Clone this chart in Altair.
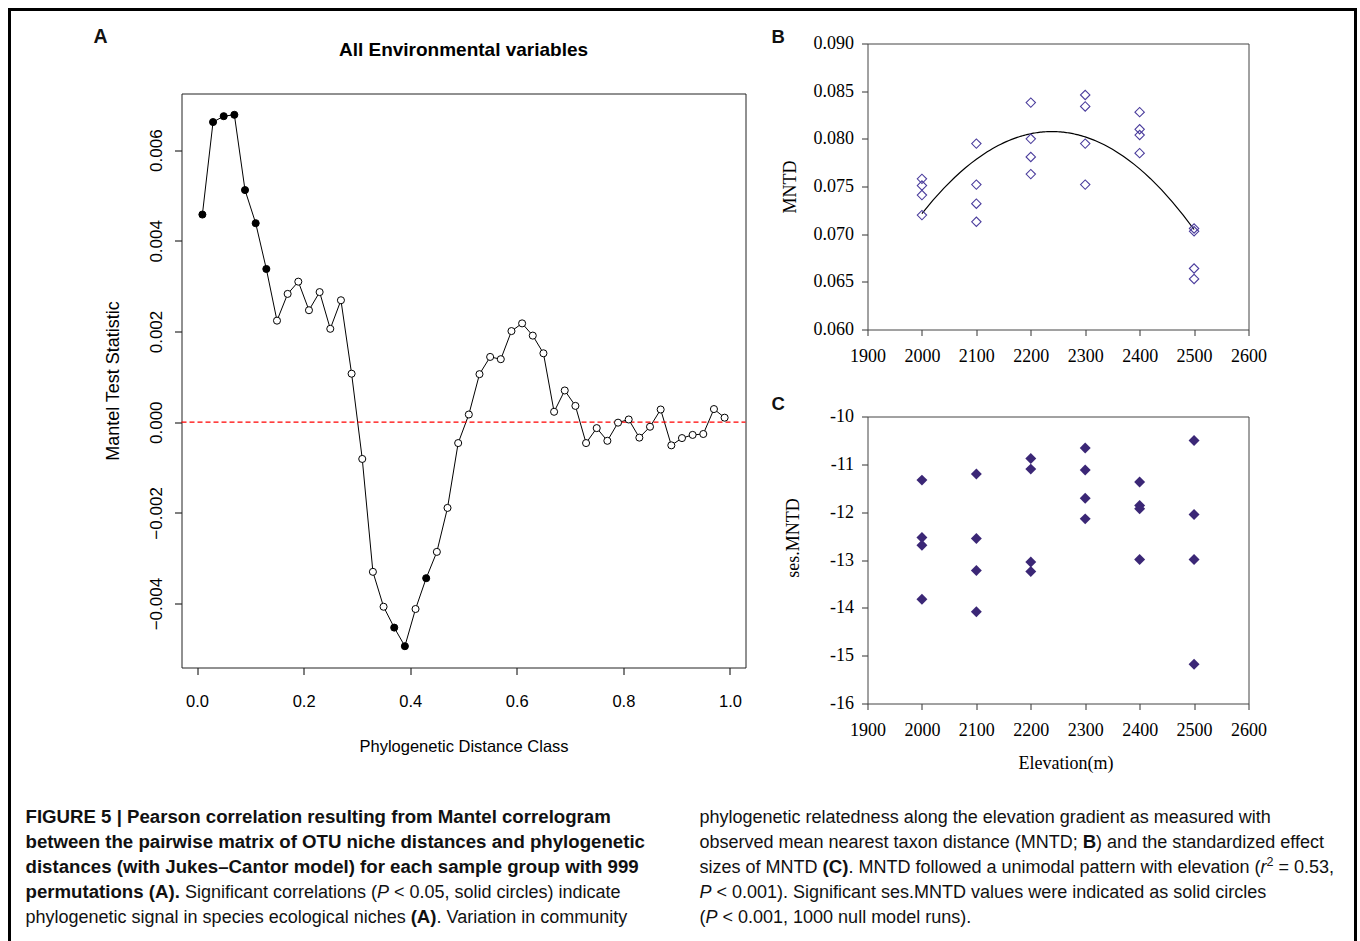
import altair as alt
import pandas as pd

# ---------------- data ----------------
a_dist = [0.01, 0.03, 0.05, 0.07, 0.09, 0.11, 0.13, 0.15, 0.17, 0.19,
          0.21, 0.23, 0.25, 0.27, 0.29, 0.31, 0.33, 0.35, 0.37, 0.39,
          0.41, 0.43, 0.45, 0.47, 0.49, 0.51, 0.53, 0.55, 0.57, 0.59,
          0.61, 0.63, 0.65, 0.67, 0.69, 0.71, 0.73, 0.75, 0.77, 0.79,
          0.81, 0.83, 0.85, 0.87, 0.89, 0.91, 0.93, 0.95, 0.97, 0.99]
a_mantel = [0.00458, 0.00662, 0.00675, 0.00678, 0.00512, 0.00439, 0.00338, 0.00224, 0.00283, 0.00310,
            0.00247, 0.00287, 0.00206, 0.00269, 0.00107, -0.00081, -0.00330, -0.00407, -0.00453, -0.00494,
            -0.00412, -0.00344, -0.00286, -0.00189, -0.00046, 0.00017, 0.00106, 0.00144, 0.00139, 0.00201,
            0.00218, 0.00191, 0.00152, 0.00023, 0.00070, 0.00036, -0.00046, -0.00013, -0.00041, -0.00001,
            0.00006, -0.00034, -0.00010, 0.00028, -0.00051, -0.00035, -0.00028, -0.00026, 0.00029, 0.00010]
a_sig = [1, 1, 1, 1, 1, 1, 1, 0, 0, 0,
         0, 0, 0, 0, 0, 0, 0, 0, 1, 1,
         0, 1, 0, 0, 0, 0, 0, 0, 0, 0,
         0, 0, 0, 0, 0, 0, 0, 0, 0, 0,
         0, 0, 0, 0, 0, 0, 0, 0, 0, 0]

elevation = [2000, 2000, 2000, 2000, 2100, 2100, 2100, 2100, 2200, 2200, 2200, 2200,
             2300, 2300, 2300, 2300, 2400, 2400, 2400, 2400, 2500, 2500, 2500, 2500]
b_mntd = [0.0758, 0.0751, 0.0741, 0.0720, 0.0795, 0.0752, 0.0732, 0.0713,
          0.0838, 0.0800, 0.0781, 0.0763, 0.0846, 0.0834, 0.0795, 0.0752,
          0.0828, 0.0810, 0.0804, 0.0785, 0.0706, 0.0703, 0.0664, 0.0653]
c_ses = [-11.33, -12.53, -12.69, -13.82, -11.20, -12.55, -13.22, -14.08,
         -10.88, -11.10, -13.04, -13.24, -10.66, -11.12, -11.71, -12.14,
         -11.37, -11.86, -11.93, -12.99, -10.50, -12.05, -12.99, -15.18]

a_xticks = [0.0, 0.2, 0.4, 0.6, 0.8, 1.0]
a_yticks = [-0.004, -0.002, 0.0, 0.002, 0.004, 0.006]
elev_ticks = [1900, 2000, 2100, 2200, 2300, 2400, 2500, 2600]
b_yticks = [0.060, 0.065, 0.070, 0.075, 0.080, 0.085, 0.090]
c_yticks = [-16, -15, -14, -13, -12, -11, -10]

caption_left = [
    [("FIGURE 5 | Pearson correlation resulting from Mantel correlogram", "b")],
    [("between the pairwise matrix of OTU niche distances and phylogenetic", "b")],
    [("distances (with Jukes\u2013Cantor model) for each sample group with 999", "b")],
    [("permutations (A).", "b"), (" Significant correlations (", "r"), ("P", "i"),
     (" < 0.05, solid circles) indicate", "r")],
    [("phylogenetic signal in species ecological niches ", "r"), ("(A)", "b"),
     (". Variation in community", "r")],
]
caption_right = [
    [("phylogenetic relatedness along the elevation gradient as measured with", "r")],
    [("observed mean nearest taxon distance (MNTD; ", "r"), ("B", "b"), (") and the standardized effect", "r")],
    [("sizes of MNTD ", "r"), ("(C)", "b"), (". MNTD followed a unimodal pattern with elevation (", "r"),
     ("r", "i"), ("2", "s"), (" = 0.53,", "r")],
    [("P", "i"), (" < 0.001). Significant ses.MNTD values were indicated as solid circles", "r")],
    [("(", "r"), ("P", "i"), (" < 0.001, 1000 null model runs).", "r")],
]

SANS = "Liberation Sans"
SERIF = "Liberation Serif"
OPEN_COL = "#4a3c9c"
FILL_COL = "#3b2776"

# ---------------- layout (pixels, relative to the view origin at page (181, 43)) ----------------
OX, OY = 181, 43
A_X = [0, 564]
A_Y = [624, 50]
BC_X = [686, 1067]
B_Y = [286, 0]
C_Y = [660, 373]
VIEW_W, VIEW_H = 1067, 660

# ---------------- text metrics (Arial / Liberation Sans) ----------------
REG = {" ": 278, "(": 333, ")": 333, ",": 278, ".": 278, ";": 278, ":": 278, "<": 584, "=": 584,
       "-": 333, "\u2013": 556, "|": 260}
BOLD = {" ": 278, "(": 333, ")": 333, ",": 278, ".": 278, ";": 333, ":": 333, "<": 584, "=": 584,
        "-": 333, "\u2013": 556, "|": 280}
for d in "0123456789":
    REG[d] = 556
    BOLD[d] = 556
REG.update(dict(zip("ABCDEFGHIJKLMNOPQRSTUVWXYZ",
                    [667, 667, 722, 722, 667, 611, 778, 722, 278, 500, 667, 556, 833, 722, 778, 667, 778,
                     722, 667, 611, 722, 667, 944, 667, 667, 611])))
REG.update(dict(zip("abcdefghijklmnopqrstuvwxyz",
                    [556, 556, 500, 556, 556, 278, 556, 556, 222, 222, 500, 222, 833, 556, 556, 556, 556,
                     333, 500, 278, 556, 500, 722, 500, 500, 500])))
BOLD.update(dict(zip("ABCDEFGHIJKLMNOPQRSTUVWXYZ",
                     [722, 722, 722, 722, 667, 611, 778, 722, 278, 556, 722, 611, 833, 722, 778, 667, 778,
                      722, 667, 611, 722, 667, 944, 667, 667, 611])))
BOLD.update(dict(zip("abcdefghijklmnopqrstuvwxyz",
                     [556, 611, 556, 611, 556, 333, 611, 611, 278, 278, 556, 278, 889, 611, 611, 611, 611,
                      389, 556, 333, 611, 556, 778, 556, 556, 500])))


def text_w(s, style, size):
    table = BOLD if style == "b" else REG
    return sum(table.get(ch, 556) for ch in s) * size / 1000.0


sizes = {"r": 18, "b": 18.65, "i": 18, "s": 12.5}
rows = {"r": [], "b": [], "i": [], "s": []}
line_y = [822, 847, 872, 897, 922]
for x0, lines in ((25, caption_left), (699, caption_right)):
    for yb, segs in zip(line_y, lines):
        cur = x0
        for txt, st in segs:
            fs = sizes[st]
            lead = len(txt) - len(txt.lstrip(" "))
            xs = cur + text_w(" " * lead, st, fs)
            yy = yb - 7 if st == "s" else yb
            rows[st].append({"t": txt.strip(), "px": xs - OX, "py": yy - OY, "fs": fs})
            cur += text_w(txt, st, fs)

rows["b"] += [
    {"t": "A", "px": 93 - OX, "py": 42 - OY, "fs": 19.5},
    {"t": "B", "px": 771 - OX, "py": 42 - OY, "fs": 18.5},
    {"t": "C", "px": 771 - OX, "py": 409 - OY, "fs": 18.5},
]
title_rows = [{"t": "All Environmental variables", "px": 463 - OX, "py": 55 - OY, "fs": 19}]

tx = alt.X("px:Q", scale=None, axis=None)
ty = alt.Y("py:Q", scale=None, axis=None)
tsz = alt.Size("fs:Q", scale=None, legend=None)

styles = {"r": dict(fontWeight="normal"), "b": dict(fontWeight="bold"),
          "i": dict(fontWeight="normal", fontStyle="italic"), "s": dict(fontWeight="normal")}
text_layers = []
for st, rr in rows.items():
    text_layers.append(
        alt.Chart(pd.DataFrame(rr)).mark_text(align="left", baseline="alphabetic", font=SANS,
                                              color="#111111", **styles[st])
        .encode(x=tx, y=ty, text="t:N", size=tsz)
    )
title_layer = alt.Chart(pd.DataFrame(title_rows)).mark_text(
    align="center", baseline="alphabetic", font=SANS, fontWeight="bold", color="black"
).encode(x=tx, y=ty, text="t:N", size=tsz)

one = pd.DataFrame({"k": [0]})
border = alt.Chart(one).mark_rect(fillOpacity=0, stroke="black", strokeWidth=3).encode(
    x=alt.value(9 - OX), x2=alt.value(1355 - OX), y=alt.value(9 - OY), y2=alt.value(950 - OY))
frameA = alt.Chart(one).mark_rect(fillOpacity=0, stroke="#222222", strokeWidth=1).encode(
    x=alt.value(A_X[0] + 0.5), x2=alt.value(A_X[1] + 0.5),
    y=alt.value(A_Y[1] + 0.5), y2=alt.value(A_Y[0] + 0.5))
frameB = alt.Chart(one).mark_rect(fillOpacity=0, stroke="#444444", strokeWidth=1).encode(
    x=alt.value(BC_X[0] + 0.5), x2=alt.value(BC_X[1] + 0.5),
    y=alt.value(B_Y[1] + 0.5), y2=alt.value(B_Y[0] + 0.5))
frameC = alt.Chart(one).mark_rect(fillOpacity=0, stroke="#444444", strokeWidth=1).encode(
    x=alt.value(BC_X[0] + 0.5), x2=alt.value(BC_X[1] + 0.5),
    y=alt.value(C_Y[1] + 0.5), y2=alt.value(C_Y[0] + 0.5))

annot = alt.layer(border, frameA, frameB, frameC, title_layer, *text_layers)

# ---------------- panel A ----------------
df_a = pd.DataFrame({"dist": a_dist, "mantel": a_mantel, "sig": a_sig})
xA = alt.X("dist:Q", scale=alt.Scale(domain=[-0.0292, 1.0292], range=A_X, nice=False, zero=False),
           axis=alt.Axis(orient="bottom", offset=A_Y[0] - VIEW_H,
                         values=a_xticks, format=".1f", grid=False, domain=False,
                         labelFlush=False, labelOverlap=False,
                         tickSize=7, tickColor="black", labelPadding=19,
                         labelFont=SANS, labelFontSize=16.5, labelColor="black",
                         title="Phylogenetic Distance Class", titleFont=SANS, titleFontSize=16.5,
                         titleFontWeight="normal", titleColor="black",
                         titleX=282, titleY=79, titleAlign="center", titleBaseline="middle"))
yA = alt.Y("mantel:Q", scale=alt.Scale(domain=[-0.00541, 0.00725], range=A_Y, nice=False, zero=False),
           axis=alt.Axis(orient="left", offset=-A_X[0],
                         values=a_yticks, format=".3f", grid=False, domain=False,
                         labelFlush=False, labelOverlap=False,
                         tickSize=7, tickColor="black", labelPadding=13,
                         labelAngle=270, labelAlign="center", labelBaseline="alphabetic",
                         labelFont=SANS, labelFontSize=17, labelColor="black",
                         title="Mantel Test Statistic", titleFont=SANS, titleFontSize=18,
                         titleFontWeight="normal", titleColor="black", titleAngle=270,
                         titleX=-68, titleY=337, titleAlign="center", titleBaseline="middle"))

lineA = alt.Chart(df_a).mark_line(color="black", strokeWidth=1).encode(x=xA, y=yA)
zeroA = alt.Chart(pd.DataFrame({"mantel": [0.0]})).mark_rule(
    color="#ff0000", strokeDash=[5, 3], strokeWidth=1.2).encode(
    y=alt.Y("mantel:Q"), x=alt.value(A_X[0]), x2=alt.value(A_X[1]))
ptsA = alt.Chart(df_a).mark_point(shape="circle", filled=True, size=50, stroke="black",
                                  strokeWidth=1, opacity=1).encode(
    x=xA, y=yA,
    fill=alt.Fill("sig:N", scale=alt.Scale(domain=[0, 1], range=["white", "black"]), legend=None))
panelA = alt.layer(lineA, zeroA, ptsA)


# ---------------- panels B and C ----------------
def elev_axis(offset, title=None):
    kw = dict(orient="bottom", offset=offset, values=elev_ticks, format="d", grid=False,
              domain=False, labelFlush=False, labelOverlap=False, tickSize=6,
              tickColor="#333333", labelPadding=12, labelFont=SERIF, labelFontSize=18,
              labelColor="black")
    if title:
        kw.update(title=title, titleFont=SERIF, titleFontSize=18, titleFontWeight="normal",
                  titleColor="black", titleX=884, titleY=60, titleAlign="center",
                  titleBaseline="middle")
    else:
        kw.update(title=None)
    return alt.Axis(**kw)


df_b = pd.DataFrame({"elev": elevation, "mntd": b_mntd})
xB = alt.X("elev:Q", scale=alt.Scale(domain=[1900, 2600], range=BC_X, nice=False, zero=False),
           axis=elev_axis(B_Y[0] - VIEW_H))
yB = alt.Y("mntd:Q", scale=alt.Scale(domain=[0.060, 0.090], range=B_Y, nice=False, zero=False),
           axis=alt.Axis(orient="left", offset=-BC_X[0], values=b_yticks, format=".3f",
                         grid=False, domain=False, labelFlush=False, labelOverlap=False,
                         tickSize=6, tickColor="#333333", labelPadding=8, labelFont=SERIF,
                         labelFontSize=18, labelColor="black", title="MNTD", titleFont=SERIF,
                         titleFontSize=18, titleFontWeight="normal", titleColor="black",
                         titleAngle=270, titleX=-77, titleY=143, titleAlign="center",
                         titleBaseline="middle"))
ptsB = alt.Chart(df_b).mark_point(shape="diamond", filled=False, size=88, color=OPEN_COL,
                                  strokeWidth=1.1, opacity=1).encode(x=xB, y=yB)
fitB = alt.Chart(df_b).transform_regression("elev", "mntd", method="poly", order=2).mark_line(
    color="black", strokeWidth=1.2).encode(x=xB, y=yB)
panelB = alt.layer(fitB, ptsB)

df_c = pd.DataFrame({"elev": elevation, "ses": c_ses})
xC = alt.X("elev:Q", scale=alt.Scale(domain=[1900, 2600], range=BC_X, nice=False, zero=False),
           axis=elev_axis(C_Y[0] - VIEW_H, "Elevation(m)"))
yC = alt.Y("ses:Q", scale=alt.Scale(domain=[-16, -10], range=C_Y, nice=False, zero=False),
           axis=alt.Axis(orient="left", offset=-BC_X[0], values=c_yticks,
                         labelExpr="'' + datum.value", grid=False, domain=False,
                         labelFlush=False, labelOverlap=False,
                         tickSize=6, tickColor="#333333", labelPadding=8, labelFont=SERIF,
                         labelFontSize=18, labelColor="black", title="ses.MNTD", titleFont=SERIF,
                         titleFontSize=18, titleFontWeight="normal", titleColor="black",
                         titleAngle=270, titleX=-74, titleY=C_Y[1] + 121, titleAlign="center",
                         titleBaseline="middle"))
panelC = alt.Chart(df_c).mark_point(shape="diamond", filled=True, size=120, color=FILL_COL,
                                    opacity=1).encode(x=xC, y=yC)

chart = alt.layer(annot, panelA, panelB, panelC).resolve_scale(
    x="independent", y="independent"
).properties(
    width=VIEW_W, height=VIEW_H,
    padding={"left": 7.5, "top": 7.5, "right": 2, "bottom": 0}
).configure(background="white").configure_view(stroke="transparent")

chart.save("out.html", embed_options={"renderer": "svg", "actions": False})
